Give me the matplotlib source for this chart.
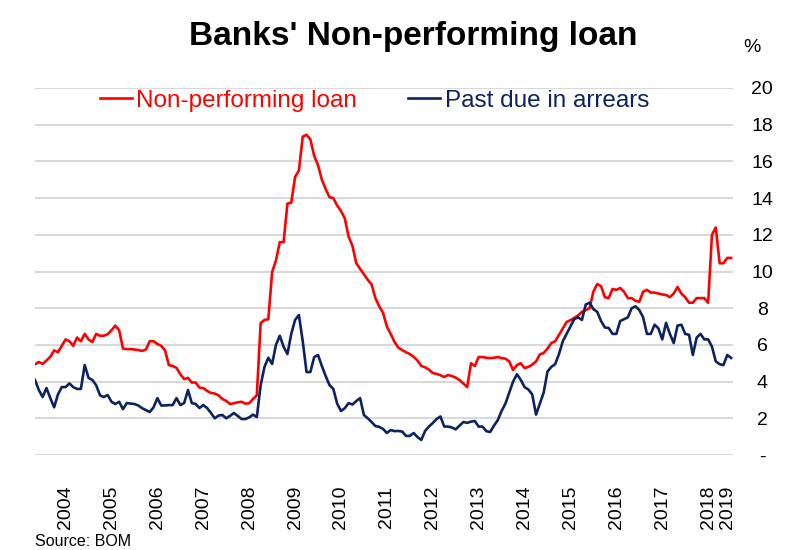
import matplotlib.pyplot as plt
from matplotlib.lines import Line2D

plt.rcParams['font.family'] = ['Liberation Sans', 'DejaVu Sans']

# monthly observations, first point = May 2003
npl = [4.95, 5.07, 4.96, 5.15, 5.35, 5.7, 5.6, 5.95, 6.3, 6.2,
       5.95, 6.4, 6.2, 6.6, 6.3, 6.16, 6.6, 6.5, 6.5, 6.58,
       6.8, 7.05, 6.8, 5.8, 5.77, 5.77, 5.75, 5.72, 5.67, 5.75,
       6.2, 6.2, 6.05, 5.95, 5.7, 4.9, 4.85, 4.75, 4.4, 4.14,
       4.2, 3.95, 3.95, 3.67, 3.65, 3.49, 3.38, 3.35, 3.25, 3.05,
       2.95, 2.78, 2.82, 2.87, 2.9, 2.8, 2.82, 3.05, 3.25, 7.19,
       7.36, 7.4, 9.97, 10.6, 11.6, 11.6, 13.7, 13.75, 15.15, 15.5,
       17.35, 17.45, 17.2, 16.3, 15.8, 15.0, 14.5, 14.05, 14.0, 13.6,
       13.3, 12.9, 11.9, 11.4, 10.45, 10.15, 9.85, 9.55, 9.3, 8.55,
       8.1, 7.75, 7.0, 6.6, 6.16, 5.85, 5.72, 5.6, 5.5, 5.35,
       5.15, 4.85, 4.78, 4.65, 4.47, 4.42, 4.35, 4.25, 4.36, 4.3,
       4.22, 4.08, 3.9, 3.7, 5.0, 4.85, 5.34, 5.34, 5.3, 5.28,
       5.3, 5.34, 5.28, 5.25, 5.1, 4.63, 4.9, 5.0, 4.74, 4.8,
       4.92, 5.1, 5.48, 5.56, 5.8, 6.1, 6.2, 6.54, 6.9, 7.25,
       7.35, 7.47, 7.6, 7.8, 7.9, 8.0, 8.9, 9.32, 9.2, 8.6,
       8.55, 9.05, 9.0, 9.1, 8.9, 8.55, 8.55, 8.4, 8.35, 8.9,
       9.0, 8.85, 8.85, 8.8, 8.75, 8.72, 8.6, 8.8, 9.16, 8.8,
       8.6, 8.3, 8.3, 8.55, 8.55, 8.55, 8.3, 12.0, 12.4, 10.45,
       10.45, 10.74, 10.74]

past_due = [4.09, 3.54, 3.16, 3.65, 3.1, 2.6, 3.3, 3.7, 3.7, 3.9,
            3.7, 3.6, 3.6, 4.9, 4.2, 4.09, 3.8, 3.25, 3.16, 3.27,
            2.9, 2.78, 2.9, 2.5, 2.83, 2.8, 2.78, 2.7, 2.55, 2.45,
            2.34, 2.6, 3.1, 2.7, 2.7, 2.72, 2.72, 3.1, 2.72, 2.83,
            3.54, 2.83, 2.78, 2.56, 2.72, 2.56, 2.29, 2.0, 2.15, 2.18,
            2.0, 2.13, 2.29, 2.13, 1.96, 1.96, 2.05, 2.2, 2.07, 3.8,
            4.8, 5.3, 4.96, 6.0, 6.5, 5.9, 5.5, 6.6, 7.36, 7.63,
            6.2, 4.52, 4.52, 5.34, 5.45, 4.85, 4.3, 3.81, 3.6, 2.8,
            2.4, 2.55, 2.83, 2.75, 2.94, 3.1, 2.18, 2.0, 1.8, 1.58,
            1.53, 1.42, 1.2, 1.36, 1.3, 1.31, 1.28, 1.04, 1.04, 1.2,
            0.98, 0.82, 1.31, 1.55, 1.74, 1.96, 2.1, 1.55, 1.55, 1.5,
            1.4, 1.6, 1.8, 1.75, 1.82, 1.85, 1.55, 1.55, 1.3, 1.25,
            1.6, 1.9, 2.4, 2.8, 3.4, 4.0, 4.4, 4.1, 3.7, 3.57,
            3.3, 2.2, 2.8, 3.4, 4.55, 4.8, 4.95, 5.5, 6.2, 6.6,
            7.0, 7.41, 7.5, 7.36, 8.2, 8.3, 7.95, 7.8, 7.3, 6.95,
            6.92, 6.6, 6.6, 7.3, 7.4, 7.5, 8.0, 8.1, 7.9, 7.5,
            6.6, 6.6, 7.1, 6.9, 6.3, 7.2, 6.6, 6.1, 7.05, 7.1,
            6.6, 6.55, 5.45, 6.4, 6.6, 6.3, 6.3, 5.9, 5.1, 4.95,
            4.9, 5.45, 5.29]

year_labels = ['2004', '2005', '2006', '2007', '2008', '2009', '2010', '2011',
               '2012', '2013', '2014', '2015', '2016', '2017', '2018', '2019']
year_pos = [8 + 12 * k for k in range(15)] + [181]

red = '#FF0000'
navy = '#0B2461'

fig = plt.figure(figsize=(7.89, 5.5), dpi=100)
ax = fig.add_axes([35 / 789, 95 / 550, 698 / 789, 367 / 550])

months = list(range(len(npl)))
ax.plot(months, npl, color=red, lw=1.9, solid_joinstyle='round')
ax.plot(months, past_due, color=navy, lw=1.9, solid_joinstyle='round')

ax.set_xlim(0, 182.5)
ax.set_ylim(0, 20)
ax.set_yticks(range(0, 21, 2))
ax.set_yticklabels(['-'] + [str(v) for v in range(2, 21, 2)])
ax.yaxis.tick_right()
ax.grid(axis='y', color='#D9D9D9', lw=1.5)
ax.set_axisbelow(True)
for s in ax.spines.values():
    s.set_visible(False)
ax.tick_params(axis='y', length=0, pad=21, labelsize=14)
for lab in ax.get_yticklabels():
    lab.set_ha('center')

ax.set_xticks(year_pos)
ax.set_xticklabels(year_labels, rotation=90, fontsize=14)
ax.tick_params(axis='x', length=0, pad=22)

handles = [Line2D([], [], color=red, lw=1.9), Line2D([], [], color=navy, lw=1.9)]
leg = ax.legend(handles, ['Non-performing loan', 'Past due in arrears'],
                loc='center left', bbox_to_anchor=(65 / 698, 0.965), ncol=2,
                frameon=False, fontsize=17.5, handlelength=1.3, handletextpad=0.2,
                columnspacing=2.1, borderpad=0, borderaxespad=0)
for txt, c in zip(leg.get_texts(), [red, navy]):
    txt.set_color(c)

fig.text(413 / 789, 1 - 36 / 550, "Banks' Non-performing loan", ha='center',
         va='center', fontsize=24, fontweight='bold')
fig.text(752 / 789, 1 - 48 / 550, '%', ha='center', va='center', fontsize=14)
fig.text(35 / 789, 1 - 541 / 550, 'Source: BOM', ha='left', va='center', fontsize=11.5)

fig.savefig('out.png', dpi=100)
